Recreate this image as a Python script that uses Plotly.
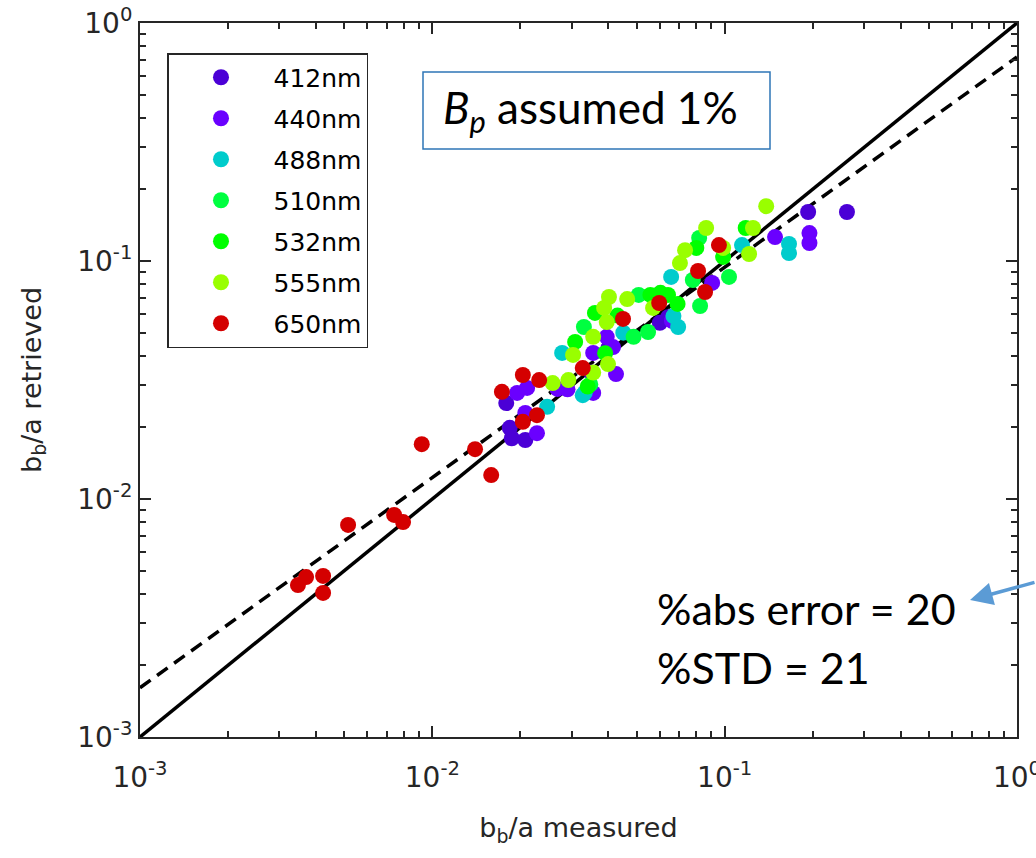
import plotly.graph_objects as go

# ---------------- data ----------------
series_names = ["412nm", "440nm", "488nm", "510nm", "532nm", "555nm", "650nm"]
series_colors = ["#4B00D6", "#6A00FF", "#00CCCC", "#00FF40", "#00FF00", "#99FF00", "#D40000"]

x_412 = [0.0179, 0.0184, 0.0187, 0.0208, 0.0400, 0.0350, 0.0640, 0.0600, 0.193, 0.262]
y_412 = [0.0253, 0.0199, 0.0180, 0.0177, 0.0430, 0.0340, 0.0580, 0.0550, 0.1607, 0.1607]

x_440 = [0.0195, 0.0211, 0.0208, 0.0228, 0.0268, 0.0290, 0.0355, 0.0425, 0.0395, 0.0415,
         0.0355, 0.0660, 0.0906, 0.1487, 0.195, 0.195]
y_440 = [0.0279, 0.0293, 0.0230, 0.0189, 0.0290, 0.0289, 0.0279, 0.0335, 0.0480, 0.0435,
         0.0411, 0.0560, 0.0809, 0.1260, 0.131, 0.119]

x_488 = [0.0247, 0.0278, 0.0327, 0.0332, 0.0656, 0.0693, 0.0668, 0.1146, 0.166, 0.166, 0.0450]
y_488 = [0.0244, 0.0411, 0.0273, 0.0279, 0.0857, 0.0528, 0.0587, 0.1167, 0.118, 0.108, 0.0500]

x_510 = [0.0818, 0.0778, 0.0824, 0.0547, 0.0508, 0.0330, 0.0488, 0.0347, 0.1035]
y_510 = [0.1250, 0.0832, 0.0647, 0.0503, 0.0720, 0.0528, 0.0480, 0.0303, 0.0857]

x_532 = [0.118, 0.080, 0.0988, 0.069, 0.064, 0.0603, 0.0557, 0.043, 0.0360, 0.0308,
         0.039, 0.034]
y_532 = [0.1376, 0.1135, 0.104, 0.066, 0.072, 0.0735, 0.072, 0.059, 0.0605, 0.0457,
         0.041, 0.0297]

x_555 = [0.1387, 0.0864, 0.125, 0.0732, 0.1212, 0.0703, 0.0569, 0.0464, 0.0402, 0.0387,
         0.0395, 0.0355, 0.0399, 0.0355, 0.0258, 0.0303, 0.0292, 0.0988]
y_555 = [0.170, 0.1376, 0.1376, 0.111, 0.107, 0.098, 0.0635, 0.0692, 0.0706, 0.0635,
         0.0554, 0.0480, 0.0369, 0.0340, 0.0307, 0.0403, 0.0316, 0.1135]

x_650 = [0.00347, 0.00370, 0.00423, 0.00423, 0.00515, 0.00740, 0.00794, 0.0092, 0.0140,
         0.0159, 0.0173, 0.0204, 0.0232, 0.0204, 0.0228, 0.0327, 0.0449, 0.0597, 0.0811,
         0.0857, 0.0956]
y_650 = [0.00435, 0.00470, 0.00475, 0.00403, 0.00778, 0.00857, 0.00800, 0.0170, 0.0162,
         0.0126, 0.0282, 0.0332, 0.0316, 0.0211, 0.0225, 0.0355, 0.0571, 0.0666, 0.0908,
         0.0741, 0.1167]

one_to_one_x = [1e-3, 1.0]
one_to_one_y = [1e-3, 1.0]
fit_x = [1e-3, 1.0]
fit_y = [1.61e-3, 0.72]

tick_vals = [1e-3, 1e-2, 1e-1, 1.0]
tick_text = ["10<sup>-3</sup>", "10<sup>-2</sup>", "10<sup>-1</sup>", "10<sup>0</sup>"]
minor_vals = [k * 10.0 ** d for d in (-3, -2, -1) for k in range(2, 10)]

xs = [x_412, x_440, x_488, x_510, x_532, x_555, x_650]
ys = [y_412, y_440, y_488, y_510, y_532, y_555, y_650]

# ---------------- figure ----------------
W, H = 1036, 858
L, R, T, B = 140, 19, 23, 121
pw, ph = W - L - R, H - T - B

def px(xp):
    return (xp - L) / pw

def py(yp):
    return (H - B - yp) / ph

fig = go.Figure()

fig.add_trace(go.Scatter(x=one_to_one_x, y=one_to_one_y, mode="lines",
                         line=dict(color="black", width=3.5), showlegend=False,
                         hoverinfo="skip"))
fig.add_trace(go.Scatter(x=fit_x, y=fit_y, mode="lines",
                         line=dict(color="black", width=3.5, dash="13px,8px"),
                         showlegend=False, hoverinfo="skip"))

for i, (name, col) in enumerate(zip(series_names, series_colors)):
    fig.add_trace(go.Scatter(x=xs[i], y=ys[i], mode="markers", name=name,
                             legendgroup=name, legendrank=i + 1,
                             marker=dict(color=col, size=16, line=dict(width=0))))

axis_common = dict(
    type="log", showline=True, linecolor="#262626", linewidth=2, mirror="ticks",
    ticks="inside", ticklen=11, tickwidth=2, tickcolor="#262626",
    tickmode="array", tickvals=tick_vals, ticktext=tick_text,
    showgrid=False, zeroline=False, ticklabeloverflow="allow",
    tickfont=dict(family="DejaVu Sans", size=28, color="#262626"),
    minor=dict(tickmode="array", tickvals=minor_vals, ticks="inside", ticklen=6,
               tickwidth=1.5, tickcolor="#262626", showgrid=False),
)

fig.update_xaxes(range=[-3, 0], **axis_common, ticklabelstandoff=14,
                 title=dict(text="b<sub>b</sub>/a measured", standoff=26,
                            font=dict(family="DejaVu Sans", size=27, color="#262626")))
fig.update_yaxes(range=[-3, 0], **axis_common,
                 title=dict(text="b<sub>b</sub>/a retrieved", standoff=28,
                            font=dict(family="DejaVu Sans", size=27, color="#262626")))

fig.update_layout(
    width=W, height=H, margin=dict(l=L, r=R, t=T, b=B, autoexpand=False),
    paper_bgcolor="white", plot_bgcolor="white",
    legend=dict(x=px(167), y=py(53), xanchor="left", yanchor="top",
                bordercolor="#262626", borderwidth=1.5, bgcolor="white",
                font=dict(family="DejaVu Sans", size=25, color="black"),
                tracegroupgap=5.5, traceorder="grouped", itemwidth=95,
                itemsizing="trace"),
    shapes=[dict(type="rect", xref="paper", yref="paper",
                 x0=px(423), x1=px(770), y0=py(149), y1=py(72),
                 line=dict(color="#2E75B6", width=1.5), fillcolor="white")],
    annotations=[
        dict(xref="paper", yref="paper", x=px(590), y=py(110),
             text="<i>B<sub>p</sub></i> assumed 1%", showarrow=False,
             font=dict(family="Lato", size=44, color="black"),
             xanchor="center", yanchor="middle"),
        dict(xref="paper", yref="paper", x=px(655), y=py(608),
             text="%abs error = 20", showarrow=False,
             font=dict(family="Lato", size=43, color="black"),
             xanchor="left", yanchor="middle"),
        dict(xref="paper", yref="paper", x=px(655), y=py(667),
             text="%STD = 21", showarrow=False,
             font=dict(family="Lato", size=43, color="black"),
             xanchor="left", yanchor="middle"),
        dict(xref="paper", yref="paper", x=px(970), y=py(600), text="",
             showarrow=True, arrowhead=2, arrowsize=1.3, arrowwidth=3.5,
             arrowcolor="#5B9BD5", ax=75, ay=-18),
    ],
)

fig.write_html("out.html")
